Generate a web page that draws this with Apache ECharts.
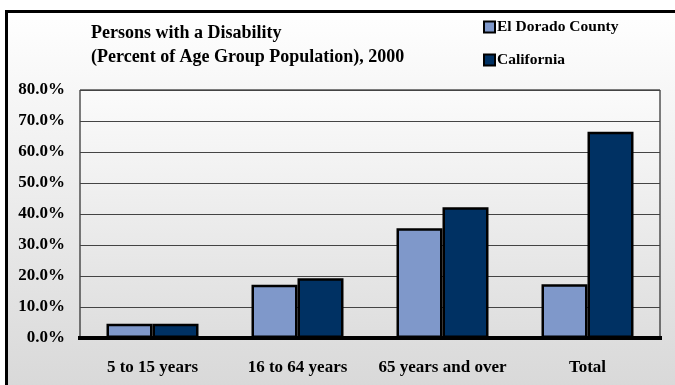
<!DOCTYPE html>
<html>
<head>
<meta charset="utf-8">
<script src="https://cdn.jsdelivr.net/npm/echarts@6/dist/echarts.min.js"></script>
<style>
  html, body { margin: 0; padding: 0; background: #fff; }
  #chart { width: 675px; height: 385px; }
</style>
</head>
<body>
<div id="chart"></div>
<script>
var categories = ['5 to 15 years', '16 to 64 years', '65 years and over', 'Total']
var elDorado = [4.6, 17.2, 35.4, 17.3]
var california = [4.6, 19.3, 42.2, 66.5]
var seriesNames = ['El Dorado County', 'California']

var font = 'Liberation Serif'

function vgrad (c0, c1) {
  return new echarts.graphic.LinearGradient(0, 0, 0, 1, [
    { offset: 0, color: c0 },
    { offset: 1, color: c1 }
  ])
}

var chart = echarts.init(document.getElementById('chart'))

var option = {
  animation: false,
  textStyle: { fontFamily: font, fontWeight: 'bold', color: '#000' },
  graphic: [
    {
      type: 'rect',
      z: -10,
      silent: true,
      shape: { x: 6.5, y: 11.5, width: 700, height: 400 },
      style: { fill: vgrad('#ffffff', '#d6d6d6'), stroke: '#000', lineWidth: 3 }
    }
  ],
  title: {
    text: 'Persons with a Disability\n(Percent of Age Group Population), 2000',
    left: 86,
    top: 16,
    textStyle: { fontFamily: font, fontWeight: 'bold', fontSize: 18, lineHeight: 24, color: '#000' }
  },
  legend: {
    orient: 'vertical',
    left: 478,
    top: 14,
    itemWidth: 11,
    itemHeight: 11,
    itemGap: 17,
    icon: 'rect',
    data: seriesNames,
    itemStyle: { borderColor: '#000', borderWidth: 2 },
    textStyle: { fontFamily: font, fontWeight: 'bold', fontSize: 15.5, color: '#000', padding: [0, 0, 0, -3] }
  },
  grid: {
    left: 80,
    right: 15,
    top: 90,
    bottom: 47,
    show: true,
    borderColor: '#000',
    borderWidth: 1,
    backgroundColor: vgrad('#fbfbfb', '#dedede')
  },
  xAxis: {
    type: 'category',
    data: categories,
    axisTick: { show: false },
    axisLine: { lineStyle: { color: '#000', width: 4, cap: 'square' } },
    axisLabel: { interval: 0, margin: 21, fontFamily: font, fontWeight: 'bold', fontSize: 17, color: '#000' }
  },
  yAxis: {
    type: 'value',
    min: 0,
    max: 80,
    interval: 10,
    axisLine: { show: false },
    axisTick: { show: false },
    splitLine: { lineStyle: { color: '#444', width: 1 } },
    axisLabel: {
      margin: 15,
      fontFamily: font,
      fontWeight: 'bold',
      fontSize: 17,
      color: '#000',
      formatter: function (v) { return v.toFixed(1) + '%' }
    }
  },
  series: [
    {
      name: seriesNames[0],
      type: 'bar',
      data: elDorado,
      barWidth: 46,
      barGap: '0%',
      itemStyle: { color: '#7f98ca', borderColor: '#000', borderWidth: 2.5 }
    },
    {
      name: seriesNames[1],
      type: 'bar',
      data: california,
      barWidth: 46,
      barGap: '0%',
      itemStyle: { color: '#003163', borderColor: '#000', borderWidth: 2.5 }
    }
  ]
}

chart.setOption(option)
</script>
</body>
</html>
